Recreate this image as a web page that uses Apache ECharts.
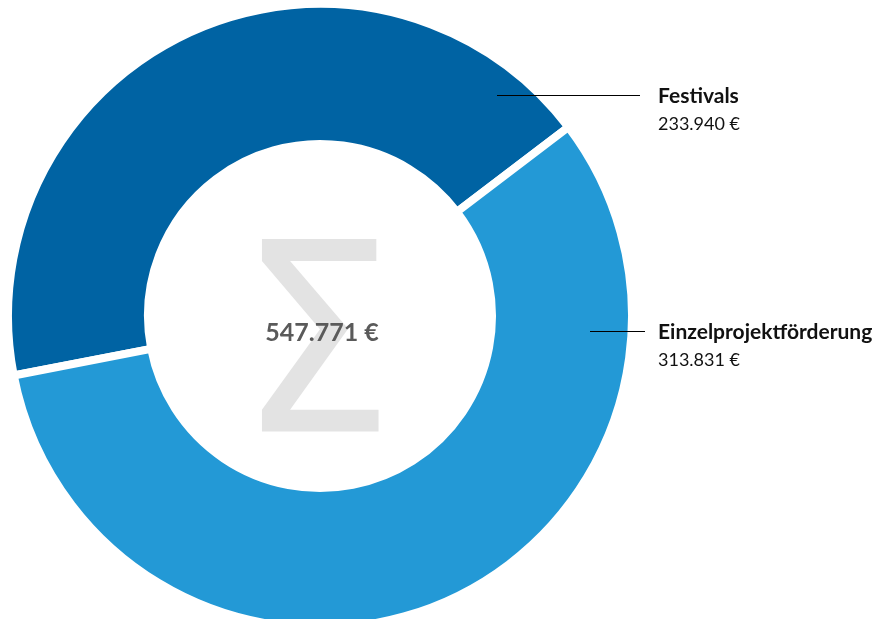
<!DOCTYPE html>
<html>
<head>
<meta charset="utf-8">
<script src="https://cdn.jsdelivr.net/npm/echarts@6/dist/echarts.min.js"></script>
<style>html,body{margin:0;padding:0;background:#fff}#c{width:883px;height:619px}</style>
</head>
<body>
<div id="c"></div>
<script>
const categories = ['Festivals', 'Einzelprojektförderung'];
const values = [233940, 313831];
const totalLabel = '547.771 €';
const colors = ['#0063A3', '#2399D6'];

function fmt(v) { return String(v).replace(/\B(?=(\d{3})+(?!\d))/g, '.'); }

const labelPos = [
  { x: 658, y: 110, line: [[497, 95.5], [640, 95.5]] },
  { x: 658, y: 346, line: [[590, 331.5], [645, 331.5]] }
];

const chart = echarts.init(document.getElementById('c'), null, { renderer: 'canvas' });
chart.setOption({
  backgroundColor: '#fff',
  animation: false,
  graphic: [
    { type: 'text', z: 0, x: 316, y: 363, scaleX: 0.94,
      style: { text: 'Σ', font: '264px "DejaVu Sans"', fill: '#e3e3e3', textAlign: 'center', textVerticalAlign: 'middle' } },
    { type: 'text', z: 10, x: 322, y: 333,
      style: { text: totalLabel, font: 'bold 25px Lato', fill: '#5a5a5a', textAlign: 'center', textVerticalAlign: 'middle' } }
  ].concat(labelPos.map(p => ({
    type: 'polyline', z: 100, shape: { points: p.line },
    style: { stroke: '#000', lineWidth: 1.2, fill: null }
  }))),
  series: [{
    type: 'pie',
    center: [320, 316],
    radius: [172, 312],
    startAngle: 191,
    clockwise: true,
    z: 2,
    itemStyle: { borderColor: '#fff', borderWidth: 8 },
    data: categories.map((c, i) => ({ name: c, value: values[i], itemStyle: { color: colors[i] } })),
    label: {
      show: true,
      position: 'outside',
      formatter: p => '{b|' + p.name + '}\n{v|' + fmt(p.value) + ' €}',
      rich: {
        b: { fontFamily: 'Lato', fontWeight: 'bold', fontSize: 21, color: '#111', lineHeight: 28 },
        v: { fontFamily: 'Lato', fontSize: 18, color: '#111', lineHeight: 28 }
      }
    },
    labelLine: { show: false },
    labelLayout: function (params) {
      const p = labelPos[params.dataIndex];
      return { x: p.x, y: p.y, align: 'left', verticalAlign: 'middle' };
    },
    emphasis: { disabled: true }
  }]
});
</script>
</body>
</html>
